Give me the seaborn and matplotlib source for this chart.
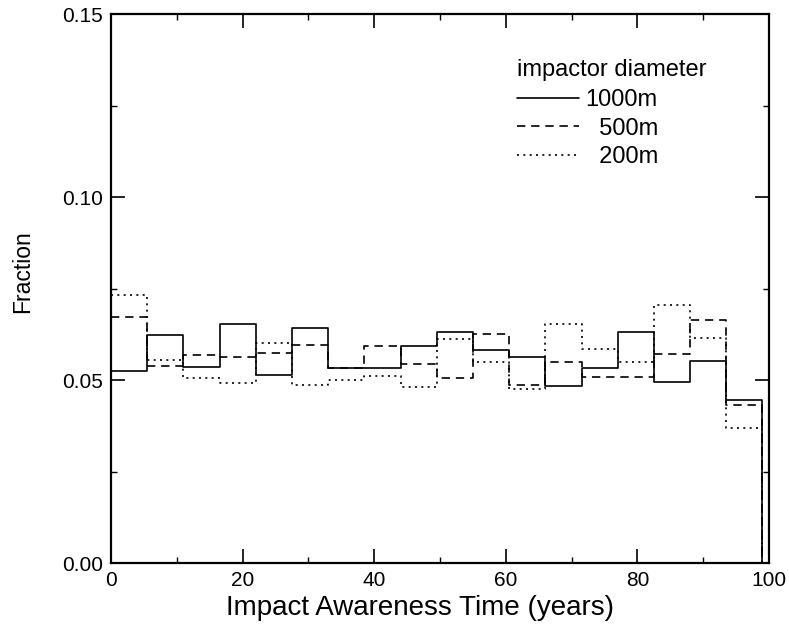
import numpy as np
import pandas as pd
import matplotlib
matplotlib.use("Agg")
import matplotlib.pyplot as plt
import seaborn as sns
from matplotlib.ticker import MultipleLocator

# ---- data ----
bin_width = 5.5
n_bins = 18
frac_1000 = [0.0525, 0.0623, 0.0535, 0.0653, 0.0515, 0.0642, 0.0534, 0.0534, 0.0593,
             0.0632, 0.0582, 0.0563, 0.0484, 0.0534, 0.0632, 0.0495, 0.0553, 0.0446]
frac_500 = [0.0671, 0.0539, 0.0569, 0.0564, 0.0575, 0.0597, 0.0534, 0.0593, 0.0544,
            0.0505, 0.0625, 0.0485, 0.0550, 0.0507, 0.0507, 0.0572, 0.0663, 0.0431]
frac_200 = [0.0732, 0.0555, 0.0505, 0.0491, 0.0602, 0.0485, 0.0501, 0.0510, 0.0480,
            0.0611, 0.0550, 0.0475, 0.0652, 0.0586, 0.0550, 0.0706, 0.0616, 0.0370]
series_labels = ["1000m", "500m", "200m"]
legend_title = "impactor diameter"
x_ticks = [0, 20, 40, 60, 80, 100]
y_ticks = [0.00, 0.05, 0.10, 0.15]

sns.set_theme(style="ticks")
plt.rcParams["font.family"] = ["Liberation Sans", "DejaVu Sans"]
plt.rcParams.update({"text.color": "black", "axes.labelcolor": "black",
                     "xtick.color": "black", "ytick.color": "black",
                     "xtick.labelcolor": "black", "ytick.labelcolor": "black"})

edges = np.arange(n_bins + 1) * bin_width
rows = []
for lab, vals in zip(series_labels, [frac_1000, frac_500, frac_200]):
    yy = list(vals) + [0.0]
    for xe, v in zip(edges, yy):
        rows.append({"x": xe, "y": v, "diameter": lab})
df = pd.DataFrame(rows)

fig = plt.figure(figsize=(7.89, 6.28), dpi=100)
ax = fig.add_axes([0.1407, 0.1035, 0.8340, 0.8742])

dash_map = {"1000m": "", "500m": (5, 3.5), "200m": (1.2, 2.6)}
sns.lineplot(data=df, x="x", y="y", style="diameter", dashes=dash_map,
             estimator=None, sort=False, drawstyle="steps-post",
             color="black", linewidth=1.2, ax=ax, legend=False)

ax.set_xlim(0, 100)
ax.set_ylim(0, 0.15)
ax.set_xticks(x_ticks)
ax.set_yticks(y_ticks)
ax.set_xticklabels([str(t) for t in x_ticks], fontsize=15, color="black")
ax.set_yticklabels([f"{t:.2f}" for t in y_ticks], fontsize=15, color="black")
ax.xaxis.set_minor_locator(MultipleLocator(10))
ax.yaxis.set_minor_locator(MultipleLocator(0.025))
ax.tick_params(which="both", direction="in", top=True, right=True, color="black")
ax.tick_params(which="major", length=10, width=1.2, pad=6)
ax.tick_params(which="minor", length=4, width=1.0)
for s in ax.spines.values():
    s.set_linewidth(1.6)
    s.set_color("black")

ax.set_xlabel("Impact Awareness Time (years)", fontsize=20, color="black")
ax.xaxis.set_label_coords(0.47, -0.082)
ax.xaxis.label.set_va("center")
ax.set_ylabel("Fraction", fontsize=16.5, color="black")
ax.yaxis.set_label_coords(-0.135, 0.53)
ax.yaxis.label.set_va("center")

handles = [plt.Line2D([], [], color="black", linewidth=1.2, linestyle=ls)
           for ls in ["-", (0, (5, 3.5)), (0, (1.2, 2.6))]]
leg = ax.legend(handles, ["1000m", "  500m", "  200m"], title=legend_title,
                frameon=False, fontsize=17, title_fontsize=17,
                loc="upper left", bbox_to_anchor=(0.603, 0.936),
                handlelength=2.6, handletextpad=0.3, labelspacing=0.28,
                borderaxespad=0, labelcolor="black")
leg.get_title().set_color("black")
leg._legend_box.align = "left"
leg._legend_box.sep = 6

fig.savefig("out.png", dpi=100)
